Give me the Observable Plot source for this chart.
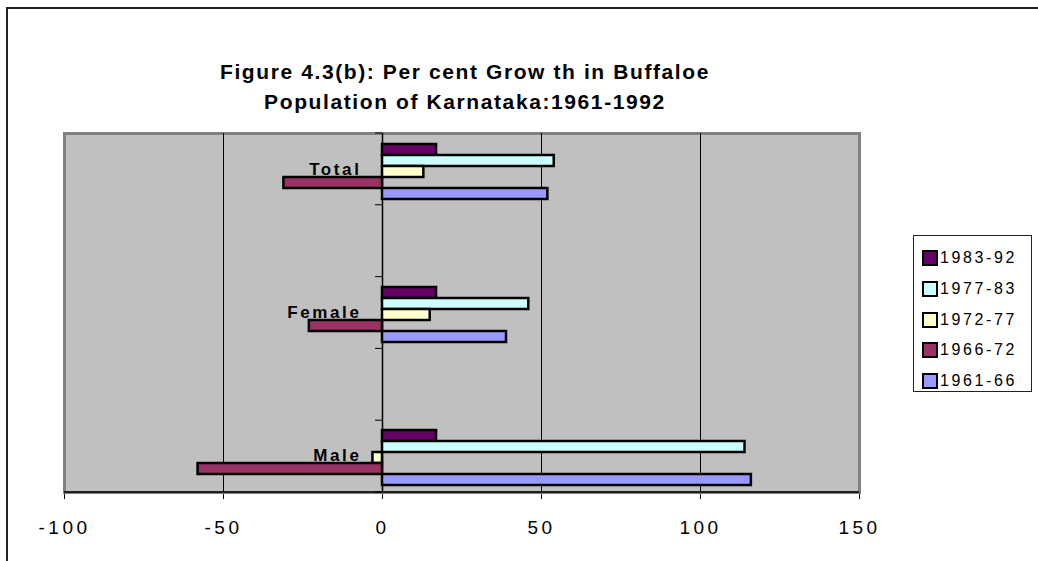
<!DOCTYPE html>
<html>
<head>
<meta charset="utf-8">
<script src="https://cdn.jsdelivr.net/npm/d3@7"></script>
<script src="https://cdn.jsdelivr.net/npm/@observablehq/plot@0.6"></script>
<style>
  html, body { margin: 0; padding: 0; background: #fff; }
  #wrap { position: relative; width: 1038px; height: 561px; overflow: hidden; font-family: "Liberation Sans", Arial, sans-serif; }
  #outer { position: absolute; left: 6px; top: 7px; width: 1040px; height: 600px; border-left: 2px solid #222; border-top: 2px solid #222; box-sizing: border-box; }
  #title { position: absolute; left: 0; top: 57px; width: 930px; text-align: center; font-weight: bold; font-size: 21px; line-height: 30px; letter-spacing: 1.6px; color: #000; }
  #chart { position: absolute; left: 0; top: 0; }
  #legend { position: absolute; left: 913px; top: 235px; width: 119px; height: 157px; border: 1px solid #222; box-sizing: border-box; background: #fff; padding-top: 7px; }
  .item { display: flex; align-items: center; height: 30.7px; padding-left: 8px; font-size: 16px; letter-spacing: 2.6px; white-space: nowrap; }
  .sw { width: 12px; height: 12px; border: 2px solid #000; margin-right: 2px; box-sizing: content-box; flex: none; }
  svg text { letter-spacing: 3.5px; }
  svg .cat text { letter-spacing: 2.6px; }
</style>
</head>
<body>
<div id="wrap">
  <div id="outer"></div>
  <div id="chart"></div>
  <div id="title">Figure 4.3(b): Per cent Grow th in Buffaloe<br>Population of Karnataka:1961-1992</div>
  <div id="legend"></div>
</div>
<script>
// ---- data ----
const categories = ["Total", "Female", "Male"];
const periods = ["1983-92", "1977-83", "1972-77", "1966-72", "1961-66"];
const periodColors = ["#660066", "#ccffff", "#ffffcc", "#993366", "#9999ff"];
// values in the order of `periods`
const totalGrowth  = [17, 54, 13, -31, 52];
const femaleGrowth = [17, 46, 15, -23, 39];
const maleGrowth   = [17, 114, -3, -58, 116];
const xTicks = [-100, -50, 0, 50, 100, 150];
const gridValues = [-50, 50, 100];

const seriesByCategory = { Total: totalGrowth, Female: femaleGrowth, Male: maleGrowth };
const rows = [];
categories.forEach(c => periods.forEach((p, i) => rows.push({ category: c, period: p, value: seriesByCategory[c][i], key: c + "|" + p })));

// band domain: five bars per category with spacer slots between groups
const gapSlots = 8;
const yDomain = [];
categories.forEach((c, ci) => {
  periods.forEach(p => yDomain.push(c + "|" + p));
  if (ci < categories.length - 1) for (let j = 0; j < gapSlots; j++) yDomain.push("gap" + ci + "_" + j);
});
const labelRows = categories.map(c => ({ category: c, key: c + "|" + periods[2] }));

const W = 1038, H = 561, mL = 64, mR = 179, mT = 133, mB = 69;

const plot = Plot.plot({
  width: W, height: H,
  marginLeft: mL, marginRight: mR, marginTop: mT, marginBottom: mB,
  style: { fontFamily: "'Liberation Sans', Arial, sans-serif", fontSize: "19px", background: "transparent", color: "#000" },
  x: { domain: [-100, 150], ticks: xTicks, tickSize: 7, tickPadding: 21, label: null, tickFormat: d => String(d) },
  y: { type: "band", domain: yDomain, range: [142, 486], padding: 0, axis: null },
  color: { domain: periods, range: periodColors },
  marks: [
    Plot.frame({ fill: "#c0c0c0", stroke: "#808080", strokeWidth: 3 }),
    Plot.ruleX(gridValues, { stroke: "#000", strokeWidth: 1 }),
    Plot.text(labelRows, { x: 0, y: "key", text: "category", textAnchor: "end", dx: -21, dy: -2, fontWeight: "bold", fontSize: 17, fill: "#000", className: "cat" }),
    Plot.ruleX([0], { stroke: "#000", strokeWidth: 1.5 }),
    Plot.barX(rows, { x1: 0, x2: "value", y: "key", fill: "period", stroke: "#000", strokeWidth: 2.5 })
  ]
});
document.getElementById("chart").appendChild(plot);

// decorations: bottom axis line and category-axis tick marks on the zero line
const xs = plot.scale("x");
const svg = d3.select(plot);
const x0 = xs.apply(0);
svg.append("line").attr("x1", xs.apply(-100)).attr("x2", xs.apply(150)).attr("y1", H - mB).attr("y2", H - mB).attr("stroke", "#000").attr("stroke-width", 1.5);
const nTick = 5;
for (let i = 0; i <= nTick; i++) {
  const yy = mT + i * (H - mT - mB) / nTick;
  svg.append("line").attr("x1", x0 - 7).attr("x2", x0).attr("y1", yy).attr("y2", yy).attr("stroke", "#000").attr("stroke-width", 1);
}

// legend
const leg = d3.select("#legend");
periods.forEach((p, i) => {
  const it = leg.append("div").attr("class", "item");
  it.append("div").attr("class", "sw").style("background", periodColors[i]);
  it.append("span").text(p);
});
</script>
</body>
</html>
